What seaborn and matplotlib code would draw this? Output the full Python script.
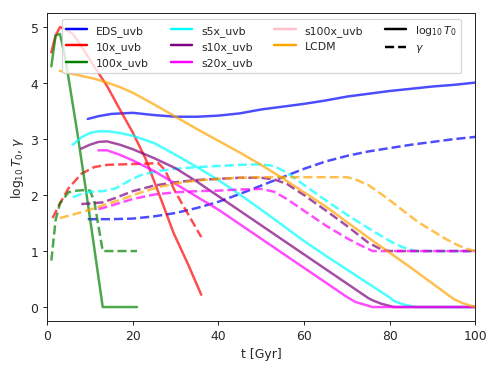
import numpy as np
import pandas as pd
import matplotlib
matplotlib.use("Agg")
import matplotlib.pyplot as plt
from matplotlib.lines import Line2D
import seaborn as sns

# ---------------------------------------------------------------
# Datos (t en Gyr)
# ---------------------------------------------------------------
# EDS_uvb
t_eds_T = [9.5, 12, 15, 20, 25, 30, 35, 40, 45, 50, 55, 60, 65, 70, 75, 80, 85, 90, 95, 100]
eds_T = [3.36, 3.41, 3.45, 3.47, 3.43, 3.40, 3.40, 3.42, 3.46, 3.53, 3.58, 3.63, 3.69, 3.76, 3.81, 3.86, 3.90, 3.94, 3.97, 4.01]
t_eds_g = [9.5, 15, 20, 25, 30, 35, 40, 45, 50, 55, 60, 65, 70, 75, 80, 85, 90, 95, 100]
eds_g = [1.57, 1.57, 1.58, 1.62, 1.68, 1.77, 1.88, 2.02, 2.17, 2.32, 2.47, 2.60, 2.70, 2.78, 2.84, 2.90, 2.95, 3.00, 3.04]

# 10x_uvb
t_10x_T = [1, 2, 3, 4, 6, 8, 11, 14, 17, 20, 23, 26, 29.5, 33, 36]
x10_T = [4.55, 4.85, 5.0, 4.98, 4.88, 4.66, 4.30, 3.95, 3.53, 3.12, 2.65, 2.05, 1.33, 0.75, 0.22]
t_10x_g = [1.3, 3, 5, 8, 11, 14, 18, 22, 26, 27.5, 30, 33, 36]
x10_g = [1.59, 1.85, 2.12, 2.38, 2.5, 2.54, 2.55, 2.56, 2.57, 2.45, 2.05, 1.65, 1.25]

# 100x_uvb
t_100x = [1, 2, 3, 4, 5, 7, 9, 11, 13, 15, 17, 19, 21]
x100_T = [4.3, 4.85, 4.88, 4.55, 4.1, 3.15, 2.13, 1.07, 0.0, 0.0, 0.0, 0.0, 0.0]
t_100x_g = [1, 2, 3, 4, 5, 7, 9, 10, 11, 12, 13, 15, 17, 19, 21]
x100_g = [0.83, 1.55, 1.85, 1.95, 2.05, 2.08, 2.09, 2.08, 1.9, 1.45, 1.0, 1.0, 1.0, 1.0, 1.0]

# s5x_uvb
t_s5_T = [6, 8, 10, 12, 14, 17, 20, 25, 30, 35, 40, 45, 50, 55, 60, 65, 70, 75, 80, 81, 83, 86, 90, 95, 100]
s5_T = [2.90, 3.03, 3.11, 3.14, 3.14, 3.11, 3.06, 2.93, 2.72, 2.50, 2.27, 2.01, 1.74, 1.46, 1.18, 0.92, 0.67, 0.42, 0.17, 0.11, 0.05, 0.0, 0.0, 0.0, 0.0]
t_s5_g = [6, 8, 10, 13, 16, 19, 22, 26, 30, 35, 40, 45, 50, 53, 56, 60, 65, 70, 75, 80, 83, 86, 90, 95, 100]
s5_g = [1.96, 2.02, 2.06, 2.07, 2.12, 2.25, 2.36, 2.43, 2.47, 2.50, 2.52, 2.54, 2.55, 2.52, 2.40, 2.18, 1.91, 1.65, 1.41, 1.18, 1.07, 1.0, 1.0, 1.0, 1.0]

# s10x_uvb
t_s10_T = [8, 10, 12, 14, 17, 20, 25, 30, 35, 40, 45, 50, 55, 60, 65, 70, 75, 76, 78, 81, 85, 90, 95, 100]
s10_T = [2.83, 2.90, 2.95, 2.96, 2.90, 2.82, 2.66, 2.48, 2.24, 1.98, 1.72, 1.46, 1.20, 0.94, 0.68, 0.42, 0.16, 0.12, 0.06, 0.0, 0.0, 0.0, 0.0, 0.0]
t_s10_g = [8, 10, 13, 16, 20, 25, 30, 35, 40, 45, 50, 53, 56, 60, 65, 70, 75, 78, 80, 85, 90, 95, 100]
s10_g = [1.84, 1.85, 1.87, 1.95, 2.07, 2.17, 2.23, 2.27, 2.29, 2.31, 2.31, 2.28, 2.2, 2.0, 1.73, 1.45, 1.15, 1.03, 1.0, 1.0, 1.0, 1.0, 1.0]

# s20x_uvb
t_s20_T = [12, 14, 17, 20, 25, 30, 35, 40, 45, 50, 55, 60, 65, 70, 72, 76, 80, 85, 90, 95, 100]
s20_T = [2.80, 2.80, 2.72, 2.62, 2.43, 2.20, 1.97, 1.74, 1.48, 1.22, 0.96, 0.70, 0.44, 0.18, 0.09, 0.0, 0.0, 0.0, 0.0, 0.0, 0.0]
t_s20_g = [12, 14, 17, 20, 25, 30, 35, 40, 45, 50, 53, 56, 60, 65, 70, 73, 76, 80, 85, 90, 95, 100]
s20_g = [1.75, 1.79, 1.86, 1.93, 2.01, 2.05, 2.07, 2.08, 2.10, 2.11, 2.06, 1.93, 1.72, 1.46, 1.23, 1.11, 1.0, 1.0, 1.0, 1.0, 1.0, 1.0]

# LCDM
t_lcdm_T = [3, 5, 8, 11, 14, 17, 20, 25, 30, 35, 40, 45, 50, 55, 60, 65, 70, 75, 80, 85, 90, 95, 97, 100]
lcdm_T = [4.22, 4.18, 4.13, 4.08, 4.01, 3.93, 3.83, 3.62, 3.40, 3.18, 2.97, 2.76, 2.54, 2.30, 2.05, 1.80, 1.52, 1.24, 0.97, 0.70, 0.42, 0.14, 0.07, 0.0]
t_lcdm_g = [3, 6, 10, 14, 18, 22, 26, 30, 35, 40, 45, 50, 55, 60, 65, 70, 72, 75, 78, 81, 84, 87, 90, 93, 96, 98, 100]
lcdm_g = [1.59, 1.65, 1.74, 1.84, 1.94, 2.05, 2.14, 2.21, 2.26, 2.29, 2.31, 2.32, 2.32, 2.32, 2.32, 2.32, 2.28, 2.18, 2.02, 1.85, 1.67, 1.50, 1.36, 1.22, 1.10, 1.04, 1.0]

modelos = ["EDS_uvb", "10x_uvb", "100x_uvb", "s5x_uvb", "s10x_uvb", "s20x_uvb", "s100x_uvb", "LCDM"]
colores = ["blue", "red", "green", "cyan", "purple", "magenta", "pink", "orange"]

series = {
    "EDS_uvb": (t_eds_T, eds_T, t_eds_g, eds_g),
    "10x_uvb": (t_10x_T, x10_T, t_10x_g, x10_g),
    "100x_uvb": (t_100x, x100_T, t_100x_g, x100_g),
    "s5x_uvb": (t_s5_T, s5_T, t_s5_g, s5_g),
    "s10x_uvb": (t_s10_T, s10_T, t_s10_g, s10_g),
    "s20x_uvb": (t_s20_T, s20_T, t_s20_g, s20_g),
    "LCDM": (t_lcdm_T, lcdm_T, t_lcdm_g, lcdm_g),
}

# ---------------------------------------------------------------
# Grafico
# ---------------------------------------------------------------
sns.set_style("ticks")
plt.rcParams["font.family"] = ["DejaVu Sans"]

fig = plt.figure(figsize=(5.6, 4.2), dpi=89)
ax = fig.add_axes([47 / 498, 1 - 322 / 374, 428 / 498, 308 / 374])

for nombre, color in zip(modelos, colores):
    if nombre not in series:
        continue
    tT, yT, tg, yg = series[nombre]
    dfT = pd.DataFrame({"t": tT, "y": yT})
    dfg = pd.DataFrame({"t": tg, "y": yg})
    sns.lineplot(data=dfT, x="t", y="y", color=color, alpha=0.7, lw=2,
                 sort=False, ax=ax, legend=False)
    sns.lineplot(data=dfg, x="t", y="y", color=color, alpha=0.7, lw=2,
                 ls="--", sort=False, ax=ax, legend=False)

ax.set_xlim(0, 100)
ax.set_ylim(-0.25, 5.25)
ax.set_xlabel("t [Gyr]")
ax.set_ylabel(r"$\log_{10}T_0, \gamma$")

handles = [Line2D([0], [0], color=c, lw=2) for c in colores]
handles += [Line2D([0], [0], color="black", lw=2),
            Line2D([0], [0], color="black", lw=2, ls="--")]
labels = modelos + [r"$\log_{10}T_0$", r"$\gamma$"]
ax.legend(handles, labels, ncol=4, loc="upper center", fontsize=8.75)

fig.savefig("out.png", dpi=89)
